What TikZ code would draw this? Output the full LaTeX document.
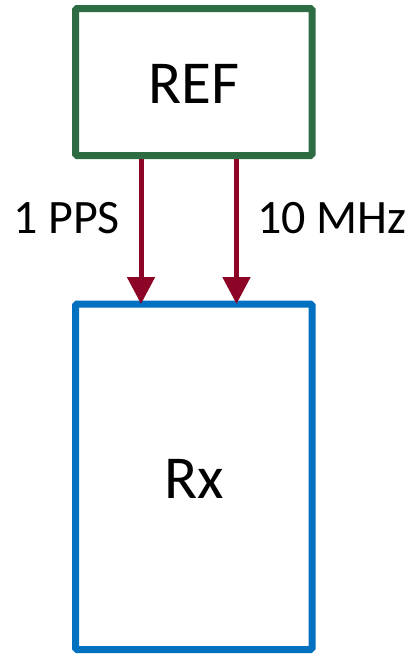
\documentclass[tikz,border=0pt]{standalone}
\usepackage{fontspec}
\setmainfont{Carlito}
\usetikzlibrary{arrows.meta}
\definecolor{refgreen}{RGB}{46,108,67}
\definecolor{rxblue}{RGB}{0,112,192}
\definecolor{arrred}{RGB}{140,4,38}
\tikzset{
  block/.style={draw, line width=7pt, fill=white, inner sep=0pt, outer sep=0pt, rounded corners=1.5pt},
  sig/.style={draw=arrred, line width=5pt, -{Triangle[width=27pt,length=27pt]}},
  biglabel/.style={anchor=base, inner sep=0pt, font=\fontsize{61pt}{70pt}\selectfont},
  smalllabel/.style={anchor=base, inner sep=0pt, font=\fontsize{48pt}{56pt}\selectfont}
}
\begin{document}
\begin{tikzpicture}[x=1pt,y=-1pt]
\useasboundingbox (0,0) rectangle (411,654);
\node[block, draw=refgreen, minimum width=236.5pt, minimum height=147pt] (ref) at (193.75,82) {};
\node[block, draw=rxblue, minimum width=236.5pt, minimum height=345.5pt] (rx) at (193.75,476.75) {};
\node[biglabel] (reft) at (194,103) {REF};
\node[biglabel] (rxt) at (194.5,498) {Rx};
\coordinate (a1) at (141,0);
\coordinate (a2) at (236.5,0);
\draw[sig, shorten <=3.5pt] (ref.south -| a1) -- (rx.north -| a1);
\draw[sig, shorten <=3.5pt] (ref.south -| a2) -- (rx.north -| a2);
\node[smalllabel] (pps) at (66.5,233) {1 PPS};
\node[smalllabel] (mhz) at (332,233) {10 MHz};
\end{tikzpicture}
\end{document}
